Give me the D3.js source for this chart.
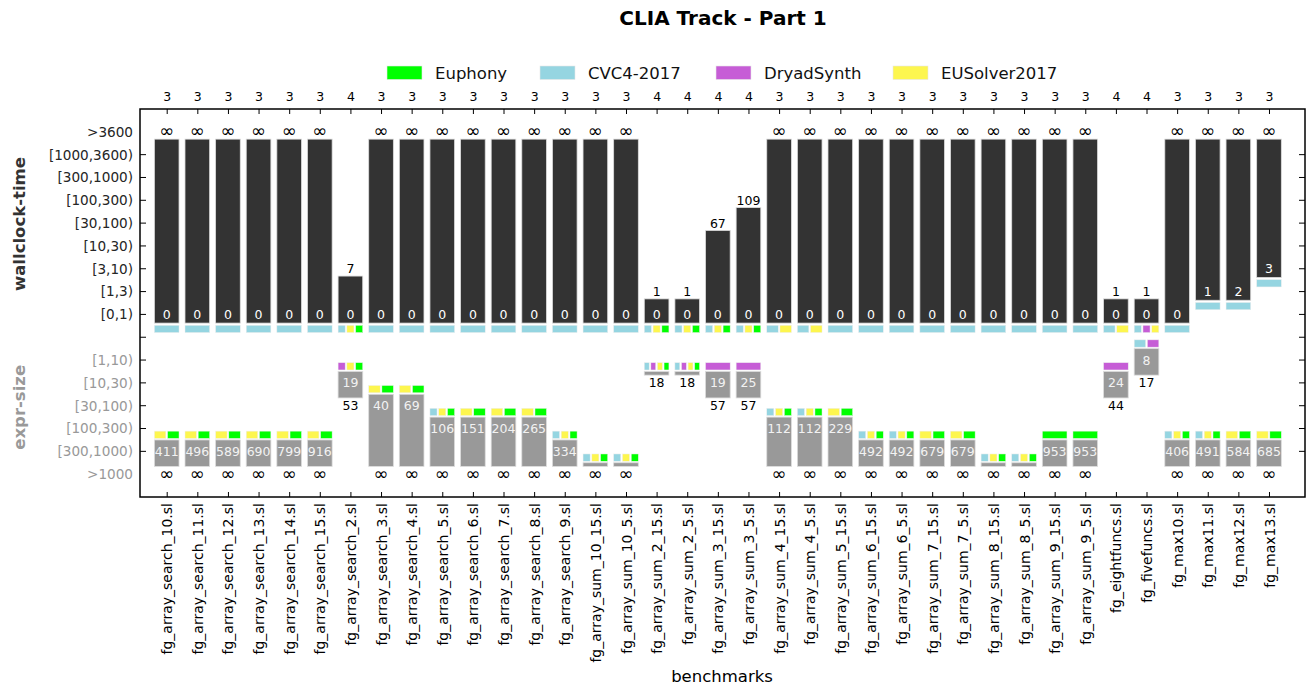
<!DOCTYPE html>
<html><head><meta charset="utf-8">
<script src="https://cdn.jsdelivr.net/npm/d3@7"></script>
<style>body{margin:0;background:#fff;} svg{display:block;font-family:"DejaVu Sans",sans-serif;}</style>
</head><body><svg id="c" width="1315" height="695"></svg>
<script>
const benchmarks = ["fg_array_search_10.sl","fg_array_search_11.sl","fg_array_search_12.sl","fg_array_search_13.sl","fg_array_search_14.sl","fg_array_search_15.sl","fg_array_search_2.sl","fg_array_search_3.sl","fg_array_search_4.sl","fg_array_search_5.sl","fg_array_search_6.sl","fg_array_search_7.sl","fg_array_search_8.sl","fg_array_search_9.sl","fg_array_sum_10_15.sl","fg_array_sum_10_5.sl","fg_array_sum_2_15.sl","fg_array_sum_2_5.sl","fg_array_sum_3_15.sl","fg_array_sum_3_5.sl","fg_array_sum_4_15.sl","fg_array_sum_4_5.sl","fg_array_sum_5_15.sl","fg_array_sum_6_15.sl","fg_array_sum_6_5.sl","fg_array_sum_7_15.sl","fg_array_sum_7_5.sl","fg_array_sum_8_15.sl","fg_array_sum_8_5.sl","fg_array_sum_9_15.sl","fg_array_sum_9_5.sl","fg_eightfuncs.sl","fg_fivefuncs.sl","fg_max10.sl","fg_max11.sl","fg_max12.sl","fg_max13.sl"];
const solverCounts = [3,3,3,3,3,3,4,3,3,3,3,3,3,3,3,3,4,4,4,4,3,3,3,3,3,3,3,3,3,3,3,4,4,3,3,3,3];
const INF = Infinity;
const timeMin = [0,0,0,0,0,0,0,0,0,0,0,0,0,0,0,0,0,0,0,0,0,0,0,0,0,0,0,0,0,0,0,0,0,0,1,2,3];
const timeMax = [INF,INF,INF,INF,INF,INF,7,INF,INF,INF,INF,INF,INF,INF,INF,INF,1,1,67,109,INF,INF,INF,INF,INF,INF,INF,INF,INF,INF,INF,1,1,INF,INF,INF,INF];
// solver codes: C = CVC4-2017, D = DryadSynth, U = EUSolver2017, E = Euphony
const timeBest = ["C","C","C","C","C","C","CUE","C","C","C","C","C","C","C","C","C","CUE","CUE","CUE","CUE","CU","CU","C","C","C","C","C","C","C","C","C","CU","CDU","C","C","C","C"];
const exprMin = [411,496,589,690,799,916,19,40,69,106,151,204,265,334,INF,INF,18,18,19,25,112,112,229,492,492,679,679,INF,INF,953,953,24,8,406,491,584,685];
const exprMax = [INF,INF,INF,INF,INF,INF,53,INF,INF,INF,INF,INF,INF,INF,INF,INF,18,18,57,57,INF,INF,INF,INF,INF,INF,INF,INF,INF,INF,INF,44,17,INF,INF,INF,INF];
const exprBest = ["UE","UE","UE","UE","UE","UE","DUE","UE","UE","CUE","UE","UE","UE","CUE","CUE","CUE","CDUE","CDUE","D","D","CUE","CUE","UE","CUE","CUE","UE","UE","CUE","CUE","E","E","D","CD","CUE","CUE","UE","UE"];
const timeBands = ["[0,1)","[1,3)","[3,10)","[10,30)","[30,100)","[100,300)","[300,1000)","[1000,3600)",">3600"];
const timeEdges = [1,3,10,30,100,300,1000,3600];
const exprBands = ["[1,10)","[10,30)","[30,100)","[100,300)","[300,1000)",">1000"];
const exprEdges = [10,30,100,300,1000];
const solverNames = ["Euphony","CVC4-2017","DryadSynth","EUSolver2017"];
const solverCodes = ["E","C","D","U"];
const solverColors = ["#00ff00","#95d5e1","#c65dd6","#fdf64f"];
const squareOrder = ["C","D","U","E"];

const svg = d3.select("#c");
const L = 140, R = 1305, T = 109, B = 497;
const x = d3.scaleLinear().domain([-0.872, benchmarks.length - 1 + 1.176]).range([L, R]);
const y = d3.scaleLinear().domain([0, 17]).range([T, B]); // slot positions
const step = y(1) - y(0);
const bw = 0.805 * (x(1) - x(0));
const color = d3.scaleOrdinal().domain(solverCodes).range(solverColors);

const timeSlot = v => 9 - (v === INF ? 8 : d3.bisectRight(timeEdges, v));
const exprSlot = v => 11 + (v === INF ? 5 : d3.bisectRight(exprEdges, v));
const lbl = v => v === INF ? "∞" : String(v);

// title
svg.append("text").attr("x", 723).attr("y", 25).attr("text-anchor", "middle")
  .attr("font-size", 20).attr("font-weight", "bold").text("CLIA Track - Part 1");

// legend
const lx = [387, 540, 716, 893];
solverNames.forEach((n, i) => {
  const g = svg.append("g").attr("transform", `translate(${lx[i]},66)`);
  g.append("rect").attr("width", 35).attr("height", 13.5).attr("fill", solverColors[i]).attr("stroke", "#e6e6e6").attr("stroke-width", 0.6);
  g.append("text").attr("x", 48).attr("y", 13).attr("font-size", 16.5).attr("fill", "#111").text(n);
});

const idx = d3.range(benchmarks.length);

// wallclock bars
svg.append("g").selectAll("rect").data(idx).join("rect")
  .attr("x", i => x(i) - bw / 2).attr("width", bw)
  .attr("y", i => y(timeSlot(timeMax[i])) + 0.32 * step)
  .attr("height", i => (y(timeSlot(timeMin[i])) + 0.38 * step) - (y(timeSlot(timeMax[i])) + 0.32 * step))
  .attr("fill", "#333333").attr("stroke", "#dcdcdc").attr("stroke-width", 0.8);

// expr bars
svg.append("g").selectAll("rect").data(idx).join("rect")
  .attr("x", i => x(i) - bw / 2).attr("width", bw)
  .attr("y", i => y(exprSlot(exprMin[i])) - 0.5 * step)
  .attr("height", i => (y(exprSlot(exprMax[i])) - 0.34 * step) - (y(exprSlot(exprMin[i])) - 0.5 * step))
  .attr("fill", "#999999").attr("stroke", "#dcdcdc").attr("stroke-width", 0.8);

// squares
function squares(i, codes, y0) {
  const list = squareOrder.filter(c => codes.includes(c));
  const gap = 1.7, n = list.length;
  const w = (bw - gap * (n - 1)) / n;
  list.forEach((c, k) => {
    svg.append("rect").attr("x", x(i) - bw / 2 + k * (w + gap)).attr("y", y0)
      .attr("width", w).attr("height", 7.3).attr("fill", color(c))
      .attr("stroke", "#eeeeee").attr("stroke-width", 0.5);
  });
}
idx.forEach(i => {
  squares(i, timeBest[i], y(timeSlot(timeMin[i])) + 0.38 * step + 2.2);
  squares(i, exprBest[i], y(exprSlot(exprMin[i])) - 0.5 * step - 8.8);
});

// labels
const lab = svg.append("g").attr("text-anchor", "middle");
function addLabel(i, slot, v, fill) {
  const isInf = v === INF;
  lab.append("text").attr("x", x(i)).attr("y", y(slot) + (isInf ? -1 : 0)).attr("dy", "0.36em")
    .attr("font-size", isInf ? 18 : 12.5).attr("fill", fill).text(lbl(v));
}
idx.forEach(i => {
  addLabel(i, timeSlot(timeMax[i]), timeMax[i], "#000");
  if (timeSlot(timeMin[i]) !== timeSlot(timeMax[i])) addLabel(i, timeSlot(timeMin[i]), timeMin[i], "#fff");
  addLabel(i, exprSlot(exprMax[i]), exprMax[i], "#000");
  if (exprSlot(exprMin[i]) !== exprSlot(exprMax[i])) addLabel(i, exprSlot(exprMin[i]), exprMin[i], "#f2f2f2");
});

// frame
svg.append("rect").attr("x", L).attr("y", T).attr("width", R - L).attr("height", B - T)
  .attr("fill", "none").attr("stroke", "#000").attr("stroke-width", 1.5);

// top axis (solver counts)
const topAxis = d3.axisTop(x).tickValues(idx).tickFormat(i => solverCounts[i]).tickSize(-5).tickPadding(8);
svg.append("g").attr("transform", `translate(0,${T})`).call(topAxis)
  .call(g => { g.select(".domain").remove(); g.selectAll("text").attr("font-size", 12.5).attr("font-family", "DejaVu Sans").attr("fill", "#000"); });

// bottom axis (benchmarks)
const botAxis = d3.axisBottom(x).tickValues(idx).tickFormat(i => benchmarks[i]).tickSize(-5).tickPadding(6);
svg.append("g").attr("transform", `translate(0,${B})`).call(botAxis)
  .call(g => {
    g.select(".domain").remove();
    g.selectAll("text").attr("font-size", 14).attr("font-family", "DejaVu Sans").attr("fill", "#000")
      .attr("text-anchor", "end").attr("transform", "rotate(-90)").attr("x", -6).attr("y", 0).attr("dy", "0.36em");
  });

// y ticks and labels
const ySlots = [2,3,4,5,6,7,8,9,10,11,12,13,14,15];
[L, R].forEach((px, side) => {
  svg.append("g").selectAll("line").data(ySlots).join("line")
    .attr("x1", px).attr("x2", side === 0 ? px + 6 : px - 6)
    .attr("y1", d => y(d)).attr("y2", d => y(d)).attr("stroke", "#000").attr("stroke-width", 1);
});
timeBands.forEach((b, k) => {
  svg.append("text").attr("x", 133).attr("y", y(9 - k)).attr("dy", "0.36em").attr("text-anchor", "end")
    .attr("font-size", 13.6).attr("fill", "#262626").text(b);
});
exprBands.forEach((b, k) => {
  svg.append("text").attr("x", 133).attr("y", y(11 + k)).attr("dy", "0.36em").attr("text-anchor", "end")
    .attr("font-size", 13.6).attr("fill", "#999999").text(b);
});

// axis titles
svg.append("text").attr("transform", `translate(25,${y(5.04)}) rotate(-90)`).attr("text-anchor", "middle")
  .attr("font-size", 16.5).attr("font-weight", "bold").attr("fill", "#333").text("wallclock-time");
svg.append("text").attr("transform", `translate(25,${y(13.07)}) rotate(-90)`).attr("text-anchor", "middle")
  .attr("font-size", 16.5).attr("font-weight", "bold").attr("fill", "#999").text("expr-size");
svg.append("text").attr("x", 722).attr("y", 682).attr("text-anchor", "middle")
  .attr("font-size", 16.5).attr("fill", "#000").text("benchmarks");
</script></body></html>
